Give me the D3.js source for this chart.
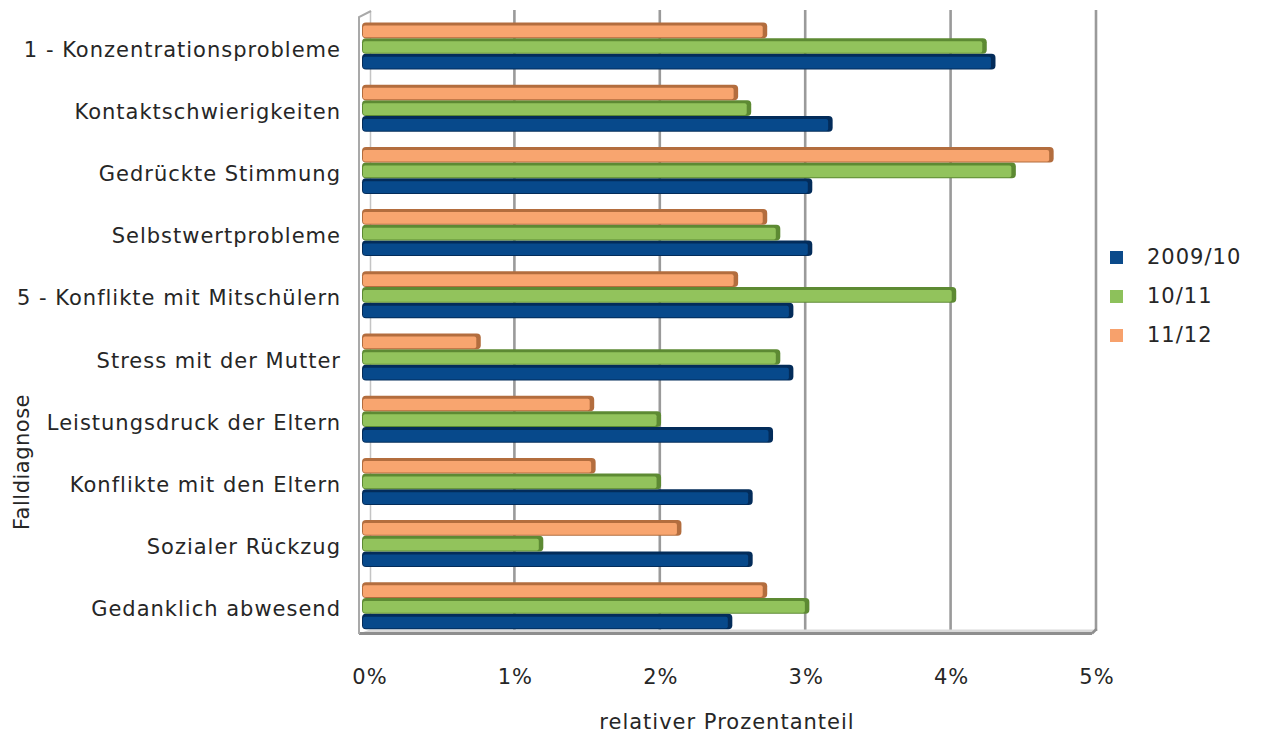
<!DOCTYPE html>
<html>
<head>
<meta charset="utf-8">
<script src="https://cdn.jsdelivr.net/npm/d3@7"></script>
<style>
  html, body { margin: 0; padding: 0; background: #ffffff; }
  svg { display: block; }
  text { font-family: "DejaVu Sans", Verdana, sans-serif; fill: #262626; }
</style>
</head>
<body>
<svg id="chart" width="1261" height="740"></svg>
<script>
// Diagnosis categories, top to bottom
const categories = [
  "1 - Konzentrationsprobleme",
  "Kontaktschwierigkeiten",
  "Gedrückte Stimmung",
  "Selbstwertprobleme",
  "5 - Konflikte mit Mitschülern",
  "Stress mit der Mutter",
  "Leistungsdruck der Eltern",
  "Konflikte mit den Eltern",
  "Sozialer Rückzug",
  "Gedanklich abwesend"
];

// School years (legend order)
const seriesNames = ["2009/10", "10/11", "11/12"];

// Relative share in percent per school year
const values2009 = [4.35, 3.23, 3.09, 3.09, 2.96, 2.96, 2.82, 2.68, 2.68, 2.54];
const values1011 = [4.29, 2.67, 4.49, 2.87, 4.08, 2.87, 2.05, 2.05, 1.24, 3.07];
const values1112 = [2.78, 2.58, 4.75, 2.78, 2.58, 0.81, 1.59, 1.60, 2.19, 2.78];

// Axis ticks
const tickValues = [0, 1, 2, 3, 4, 5];
const tickLabels = ["0%", "1%", "2%", "3%", "4%", "5%"];

const xTitle = "relativer Prozentanteil";
const yTitle = "Falldiagnose";

const seriesValues = { "2009/10": values2009, "10/11": values1011, "11/12": values1112 };
const palette = {
  "2009/10": { face: "#07498b", edge: "#032c5a", legend: "#0b4a8a" },
  "10/11":   { face: "#92c35c", edge: "#5d8a33", legend: "#8dc15b" },
  "11/12":   { face: "#f8a56f", edge: "#b36d3e", legend: "#f7a16c" }
};

const svg = d3.select("#chart");

// back wall scale (gridlines, tick labels) and bar scale (front plane)
const xBack = d3.scaleLinear().domain([0, 5]).range([369, 1096]);
const xBar = d3.scaleLinear().domain([0, 5]).range([363, 1090]);

const y0 = d3.scaleBand()
  .domain(categories)
  .range([15.4, 637.4])
  .paddingInner(0.244)
  .paddingOuter(0.122);

// inside each group the latest year sits on top
const y1 = d3.scaleBand()
  .domain(["11/12", "10/11", "2009/10"])
  .range([0, y0.bandwidth()]);

const frame = svg.append("g");

// back wall left edge
frame.append("line")
  .attr("x1", 370.5).attr("y1", 11).attr("x2", 370.5).attr("y2", 629)
  .attr("stroke", "#c4c4c4").attr("stroke-width", 1.5);

// vertical gridlines on the back wall
frame.selectAll("line.grid")
  .data(tickValues.filter(t => t > 0))
  .join("line")
  .attr("class", "grid")
  .attr("x1", d => xBack(d)).attr("x2", d => xBack(d))
  .attr("y1", 10).attr("y2", 631)
  .attr("stroke", "#9a9a9a").attr("stroke-width", 2.6);

// floor
frame.append("path")
  .attr("d", `M359,633.5 L1092,633.5 L1096,629.5 L370,629.5 Z`)
  .attr("fill", "#d9d9d9").attr("stroke", "none");
frame.append("line")
  .attr("x1", 359).attr("y1", 633.5).attr("x2", 1092).attr("y2", 633.5)
  .attr("stroke", "#8e8e8e").attr("stroke-width", 3);
frame.append("line")
  .attr("x1", 1092).attr("y1", 633.5).attr("x2", 1096.5).attr("y2", 629)
  .attr("stroke", "#8e8e8e").attr("stroke-width", 2.5);

// left side wall
frame.append("path")
  .attr("d", "M359,634 L359,17 L371,11")
  .attr("fill", "none").attr("stroke", "#a9a9a9").attr("stroke-width", 2);

// bars
const rows = [];
categories.forEach((c, i) => {
  seriesNames.forEach(s => rows.push({ cat: c, series: s, value: seriesValues[s][i] }));
});

const bars = svg.append("g").selectAll("g.bar")
  .data(rows)
  .join("g")
  .attr("class", "bar")
  .attr("transform", d => `translate(0,${y0(d.cat) + y1(d.series)})`);

const bh = y1.bandwidth();

// depth (top face and end cap)
bars.append("rect")
  .attr("x", xBar(0) - 1)
  .attr("y", -0.5)
  .attr("width", d => xBar(d.value) - xBar(0) + 1)
  .attr("height", bh)
  .attr("rx", 4).attr("ry", 4)
  .attr("fill", d => palette[d.series].edge);

// front face
bars.append("rect")
  .attr("x", xBar(0))
  .attr("y", 2.5)
  .attr("width", d => Math.max(0, xBar(d.value) - xBar(0) - 4.5))
  .attr("height", bh - 4)
  .attr("rx", 2).attr("ry", 2)
  .attr("fill", d => palette[d.series].face);

const fontSize = 21;

// category labels
svg.append("g").selectAll("text")
  .data(categories)
  .join("text")
  .attr("x", 341)
  .attr("y", d => y0(d) + y0.bandwidth() / 2 + 10)
  .attr("text-anchor", "end")
  .attr("font-size", fontSize)
  .attr("letter-spacing", 1)
  .text(d => d);

// tick labels
svg.append("g").selectAll("text")
  .data(tickValues)
  .join("text")
  .attr("x", d => xBack(d) + 1)
  .attr("y", 684)
  .attr("text-anchor", "middle")
  .attr("font-size", fontSize)
  .attr("letter-spacing", 1)
  .text((d, i) => tickLabels[i]);

// axis titles
svg.append("text")
  .attr("x", 727).attr("y", 729)
  .attr("text-anchor", "middle")
  .attr("font-size", fontSize)
  .attr("letter-spacing", 1)
  .text(xTitle);

svg.append("text")
  .attr("transform", "translate(29,462) rotate(-90)")
  .attr("text-anchor", "middle")
  .attr("font-size", fontSize)
  .attr("letter-spacing", 0.5)
  .text(yTitle);

// legend
const legend = svg.append("g").selectAll("g")
  .data(seriesNames)
  .join("g")
  .attr("transform", (d, i) => `translate(1110,${251 + i * 39})`);

legend.append("rect")
  .attr("width", 13).attr("height", 13)
  .attr("fill", d => palette[d].legend);

legend.append("text")
  .attr("x", 37).attr("y", 13)
  .attr("font-size", fontSize)
  .attr("letter-spacing", 1)
  .text(d => d);
</script>
</body>
</html>
